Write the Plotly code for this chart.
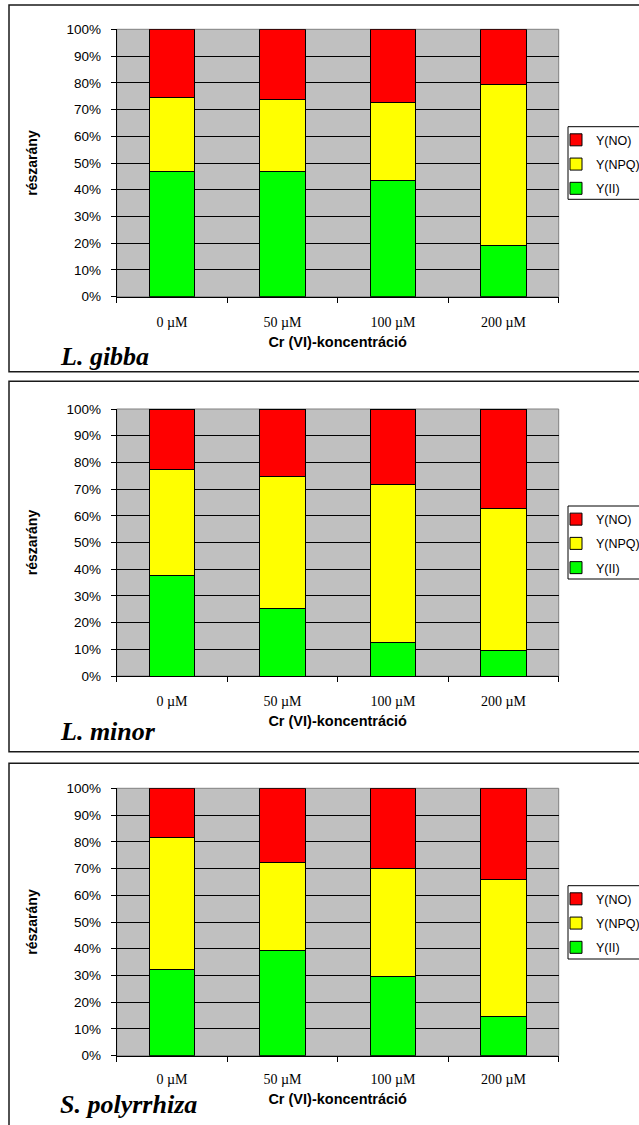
import plotly.graph_objects as go

# ---------------- data ----------------
categories = ["0 µM", "50 µM", "100 µM", "200 µM"]
series_names = ["Y(II)", "Y(NPQ)", "Y(NO)"]
series_colors = ["#00FF00", "#FFFF00", "#FF0000"]
legend_rank = [3, 2, 1]

gibba_YII = [47.0, 47.0, 43.6, 19.1]
gibba_YNPQ = [27.6, 26.8, 28.9, 60.3]
gibba_YNO = [25.4, 26.2, 27.5, 20.6]

minor_YII = [37.8, 25.2, 12.4, 9.4]
minor_YNPQ = [39.4, 49.7, 59.5, 53.5]
minor_YNO = [22.8, 25.1, 28.1, 37.1]

polyr_YII = [32.3, 39.2, 29.8, 14.6]
polyr_YNPQ = [49.2, 33.1, 40.3, 51.4]
polyr_YNO = [18.5, 27.7, 29.9, 34.0]

species = ["L. gibba", "L. minor", "S. polyrrhiza"]
y_tickvals = [0, 10, 20, 30, 40, 50, 60, 70, 80, 90, 100]
y_ticktext = ["0%", "10%", "20%", "30%", "40%", "50%", "60%", "70%", "80%", "90%", "100%"]
x_title = "Cr (VI)-koncentráció"
y_title = "részarány"

panels = [
    (gibba_YII, gibba_YNPQ, gibba_YNO),
    (minor_YII, minor_YNPQ, minor_YNO),
    (polyr_YII, polyr_YNPQ, polyr_YNO),
]

# ---------------- layout geometry (pixels) ----------------
W, H = 639, 1125
plot_x = (116.7, 558.7)
plot_y = [(29.3, 296.7), (409.0, 676.0), (788.3, 1055.7)]
panel_box = [(5.0, 371.7), (381.3, 751.7), (763.3, 1135.0)]
legend_box = [(126.7, 199.3), (506.0, 579.0), (885.7, 959.0)]
label_y = [356.5, 732.0, 1104.0]
label_size = [26, 26, 26]
tick_standoff = [12, 12, 10]

def px_x(v):
    return v / W

def px_y(v):
    return 1 - v / H

SANS = "Liberation Sans, Arial, sans-serif"
SERIF = "Liberation Serif, Times New Roman, serif"

fig = go.Figure()
layout = dict(
    width=W, height=H,
    margin=dict(l=0, r=0, t=0, b=0, autoexpand=False),
    paper_bgcolor="white",
    plot_bgcolor="#C0C0C0",
    barmode="stack",
    bargap=0.59,
    showlegend=True,
    shapes=[], annotations=[],
)

for i, vals in enumerate(panels):
    n = i + 1
    xa = "x" if n == 1 else f"x{n}"
    ya = "y" if n == 1 else f"y{n}"
    lg = "legend" if n == 1 else f"legend{n}"
    for name, color, rank, v in zip(series_names, series_colors, legend_rank, vals):
        fig.add_trace(go.Bar(
            x=categories, y=v, name=name,
            marker=dict(color=color, line=dict(color="black", width=1)),
            xaxis=xa, yaxis=ya, legend=lg,
            legendgroup=f"p{n}_{name}", legendrank=rank,
        ))
    y0, y1 = plot_y[i]
    layout[f"xaxis{'' if n == 1 else n}"] = dict(
        domain=[px_x(plot_x[0]), px_x(plot_x[1])],
        anchor=ya,
        type="category",
        showgrid=False,
        showline=True, linecolor="black", linewidth=1,
        ticks="outside", tickson="boundaries", ticklen=5, tickcolor="black",
        tickfont=dict(family=SERIF, size=14, color="black"),
        ticklabelstandoff=tick_standoff[i],
        title=dict(text=x_title, font=dict(family=SANS, size=14.5, color="black", weight="bold"),
                   standoff=8),
        fixedrange=True,
    )
    layout[f"yaxis{'' if n == 1 else n}"] = dict(
        domain=[px_y(y1), px_y(y0)],
        anchor=xa,
        range=[0, 100],
        tickmode="array", tickvals=y_tickvals, ticktext=y_ticktext,
        showgrid=True, gridcolor="black", gridwidth=1,
        zeroline=False,
        showline=True, linecolor="black", linewidth=1,
        ticks="outside", ticklen=5, tickcolor="black",
        tickfont=dict(family=SANS, size=13.5, color="black"),
        ticklabelstandoff=7,
        title=dict(text=y_title, font=dict(family=SANS, size=14, color="black", weight="bold"),
                   standoff=25),
        fixedrange=True,
    )
    lt, lb = legend_box[i]
    layout[lg] = dict(
        x=px_x(556), xanchor="left",
        y=px_y(lt - 1.5), yanchor="top",
        bgcolor="rgba(0,0,0,0)", borderwidth=0,
        font=dict(family=SANS, size=12.5, color="black"),
        traceorder="grouped", tracegroupgap=5,
    )
    # legend frame
    layout["shapes"].append(dict(
        type="rect", xref="paper", yref="paper",
        x0=px_x(568), x1=1.05, y0=px_y(lb), y1=px_y(lt),
        line=dict(color="black", width=1), fillcolor="white", layer="above",
    ))
    # plot area gray frame (top / right)
    layout["shapes"].append(dict(
        type="rect", xref=f"{xa} domain", yref=f"{ya} domain",
        x0=0, x1=1, y0=0, y1=1, line=dict(color="#808080", width=1), layer="below",
    ))
    # panel border
    pt, pb = panel_box[i]
    layout["shapes"].append(dict(
        type="rect", xref="paper", yref="paper",
        x0=px_x(9.0), x1=1.05, y0=px_y(pb), y1=px_y(pt),
        line=dict(color="#1a1a1a", width=1.5),
    ))
    layout["annotations"].append(dict(
        text=f"<b><i>{species[i]}</i></b>", xref="paper", yref="paper",
        x=px_x(58), xanchor="left", y=px_y(label_y[i]), yanchor="middle",
        showarrow=False, font=dict(family=SERIF, size=label_size[i], color="black"),
    ))

fig.update_layout(**layout)
fig.write_html(
    "out.html",
    config={"displayModeBar": False},
    post_script="document.body.style.margin='0';document.body.style.overflow='hidden';",
)
